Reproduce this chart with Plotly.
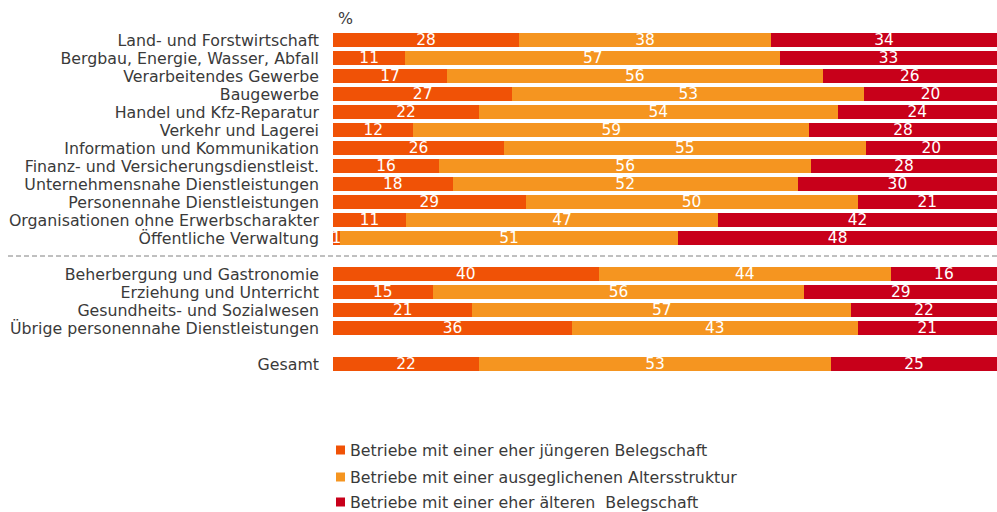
import plotly.graph_objects as go

categories = [
    "Land- und Forstwirtschaft",
    "Bergbau, Energie, Wasser, Abfall",
    "Verarbeitendes Gewerbe",
    "Baugewerbe",
    "Handel und Kfz-Reparatur",
    "Verkehr und Lagerei",
    "Information und Kommunikation",
    "Finanz- und Versicherungsdienstleist.",
    "Unternehmensnahe Dienstleistungen",
    "Personennahe Dienstleistungen",
    "Organisationen ohne Erwerbscharakter",
    "Öffentliche Verwaltung",
    "Beherbergung und Gastronomie",
    "Erziehung und Unterricht",
    "Gesundheits- und Sozialwesen",
    "Übrige personennahe Dienstleistungen",
    "Gesamt",
]
# slot positions (gaps for separator and before "Gesamt")
positions = [0, 1, 2, 3, 4, 5, 6, 7, 8, 9, 10, 11, 13, 14, 15, 16, 18]

juenger = [28, 11, 17, 27, 22, 12, 26, 16, 18, 29, 11, 1, 40, 15, 21, 36, 22]
ausgeglichen = [38, 57, 56, 53, 54, 59, 55, 56, 52, 50, 47, 51, 44, 56, 57, 43, 53]
aelter = [34, 33, 26, 20, 24, 28, 20, 28, 30, 21, 42, 48, 16, 29, 22, 21, 25]

series_names = [
    "Betriebe mit einer eher jüngeren Belegschaft",
    "Betriebe mit einer ausgeglichenen Altersstruktur",
    "Betriebe mit einer eher älteren  Belegschaft",
]
colors = ["#F05206", "#F59520", "#C8001A"]

FONT = "DejaVu Sans"
FS = 15.8
TXT = "#3a3a3a"

W, H = 997, 512
L, R, T, B = 333, 0, 31, 139
PW, PH = W - L - R, H - T - B


def px_x(px):
    return (px - L) / PW


def px_y(py):
    return (H - B - py) / PH


fig = go.Figure()
for name, vals, col in zip(series_names, [juenger, ausgeglichen, aelter], colors):
    fig.add_trace(go.Bar(
        y=positions, x=vals, orientation="h", name=name,
        marker=dict(color=col, line=dict(width=0)),
        text=[str(v) for v in vals], textposition="inside",
        insidetextanchor="middle", textangle=0,
        textfont=dict(color="white", size=15.4, family=FONT),
        cliponaxis=False, constraintext="none",
        showlegend=False, hoverinfo="skip",
    ))

shapes = [dict(
    type="line", xref="paper", yref="y", x0=px_x(8), x1=1.0, y0=12, y1=12,
    line=dict(color="#808080", width=1, dash="5px,3px"),
)]
annotations = [dict(
    text="%", xref="paper", yref="paper", x=px_x(336), y=px_y(18),
    xanchor="left", yanchor="middle", showarrow=False,
    font=dict(family=FONT, size=FS, color=TXT),
)]

legend_y = [450, 477, 502]
for name, col, ly in zip(series_names, colors, legend_y):
    shapes.append(dict(
        type="rect", xref="paper", yref="paper",
        x0=px_x(336), x1=px_x(345), y0=px_y(ly + 4.5), y1=px_y(ly - 4.5),
        fillcolor=col, line=dict(width=0),
    ))
    annotations.append(dict(
        text=name, xref="paper", yref="paper", x=px_x(348), y=px_y(ly),
        xanchor="left", yanchor="middle", showarrow=False,
        font=dict(family=FONT, size=FS, color=TXT),
    ))

fig.update_layout(
    barmode="stack", barnorm="percent", bargap=0.17,
    width=W, height=H,
    margin=dict(l=L, r=R, t=T, b=B),
    plot_bgcolor="white", paper_bgcolor="white",
    font=dict(family=FONT, size=FS, color=TXT),
    xaxis=dict(range=[0, 100], visible=False, fixedrange=True),
    yaxis=dict(
        range=[18.5, -0.5], tickmode="array", tickvals=positions,
        ticktext=categories, showgrid=False, zeroline=False,
        ticks="", ticklabelstandoff=13, fixedrange=True,
        tickfont=dict(family=FONT, size=FS, color=TXT),
    ),
    showlegend=False,
    hovermode=False,
    shapes=shapes,
    annotations=annotations,
)

fig.write_html(
    "out.html",
    config={"displayModeBar": False},
    post_script="document.body.style.margin='0';document.body.style.overflow='hidden';",
)
